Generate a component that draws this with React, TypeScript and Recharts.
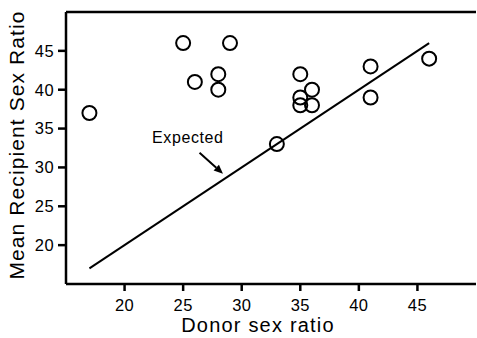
import {
  ScatterChart,
  Scatter,
  XAxis,
  YAxis,
  ReferenceLine,
  ReferenceDot,
} from 'recharts'

const FONT = '"Liberation Sans", Arial, Helvetica, sans-serif'

// donor sex ratio (x) vs mean recipient sex ratio (y)
const donorRatio = [17, 25, 29, 26, 28, 28, 35, 35, 35, 36, 36, 33, 41, 41, 46]
const recipientRatio = [37, 46, 46, 41, 42, 40, 42, 39, 38, 40, 38, 33, 43, 39, 44]

const xTicks = [20, 25, 30, 35, 40, 45]
const yTicks = [20, 25, 30, 35, 40, 45]
const axisDomain: [number, number] = [15, 50]

// expected line (y = x) and the annotation arrow
const expectedFrom = 17
const expectedTo = 46
const arrowFrom = { x: 26.4, y: 31.9 }
const arrowTo = { x: 28.4, y: 29.2 }
const labelAt = { x: 25.4, y: 33.8 }

const points = donorRatio.map((d, i) => ({ donor: d, recipient: recipientRatio[i] }))

function OpenCircle(props: any) {
  const { cx, cy } = props
  return <circle cx={cx} cy={cy} r={7} fill="none" stroke="#000" strokeWidth={2} />
}

function Arrow(props: any) {
  const { x1, y1, x2, y2 } = props
  const ang = Math.atan2(y2 - y1, x2 - x1)
  const len = 9
  const w = 4
  const bx = x2 - len * Math.cos(ang)
  const by = y2 - len * Math.sin(ang)
  const px = -Math.sin(ang) * w
  const py = Math.cos(ang) * w
  return (
    <g>
      <line x1={x1} y1={y1} x2={bx} y2={by} stroke="#000" strokeWidth={2} />
      <polygon points={`${x2},${y2} ${bx + px},${by + py} ${bx - px},${by - py}`} fill="#000" />
    </g>
  )
}

function ExpectedText(props: any) {
  const { cx, cy } = props
  return (
    <text
      x={cx}
      y={cy}
      textAnchor="middle"
      dominantBaseline="central"
      fontFamily={FONT}
      fontSize={16}
      letterSpacing={0.6}
      fill="#000"
    >
      Expected
    </text>
  )
}

function XTitle(props: any) {
  const { viewBox } = props
  const cx = viewBox.x + viewBox.width / 2 - 13
  return (
    <text x={cx} y={332} textAnchor="middle" fontFamily={FONT} fontSize={20} letterSpacing={1.2} fill="#000">
      Donor sex ratio
    </text>
  )
}

function YTitle(props: any) {
  const { viewBox } = props
  const cy = viewBox.y + viewBox.height / 2 - 3
  const cx = 24
  return (
    <text
      x={cx}
      y={cy}
      transform={`rotate(-90, ${cx}, ${cy})`}
      textAnchor="middle"
      fontFamily={FONT}
      fontSize={21}
      letterSpacing={1.1}
      fill="#000"
    >
      Mean Recipient Sex Ratio
    </text>
  )
}

function XTick(props: any) {
  const { x, y, payload } = props
  return (
    <text x={x} y={y} dy="0.71em" textAnchor="middle" fontFamily={FONT} fontSize={16.5} letterSpacing={0.4} fill="#000">
      {payload.value}
    </text>
  )
}

function YTick(props: any) {
  const { x, y, payload } = props
  return (
    <text x={x} y={y} dy="0.355em" textAnchor="end" fontFamily={FONT} fontSize={16.5} letterSpacing={0.4} fill="#000">
      {payload.value}
    </text>
  )
}

export default function App() {
  return (
    <div style={{ position: 'absolute', left: 0, top: 0, background: '#fff' }}>
      <ScatterChart width={477} height={338} margin={{ top: 12, right: 1, left: 0, bottom: 0 }}>
        <XAxis
          type="number"
          dataKey="donor"
          domain={axisDomain}
          ticks={xTicks}
          allowDataOverflow
          height={54}
          stroke="#000"
          strokeWidth={2.5}
          tickSize={7}
          tickMargin={8}
          tick={<XTick />}
          label={<XTitle />}
        />
        <YAxis
          type="number"
          dataKey="recipient"
          domain={axisDomain}
          ticks={yTicks}
          allowDataOverflow
          width={66}
          stroke="#000"
          strokeWidth={2.5}
          tickSize={8}
          tickMargin={4}
          tick={<YTick />}
          label={<YTitle />}
        />
        <ReferenceLine y={50} stroke="#000" strokeWidth={2.5} />
        <ReferenceLine
          segment={[
            { x: expectedFrom, y: expectedFrom },
            { x: expectedTo, y: expectedTo },
          ]}
          stroke="#000"
          strokeWidth={2}
        />
        <ReferenceLine segment={[arrowFrom, arrowTo]} shape={Arrow} />
        <ReferenceDot x={labelAt.x} y={labelAt.y} shape={ExpectedText} />
        <Scatter data={points} shape={OpenCircle} isAnimationActive={false} />
      </ScatterChart>
    </div>
  )
}
